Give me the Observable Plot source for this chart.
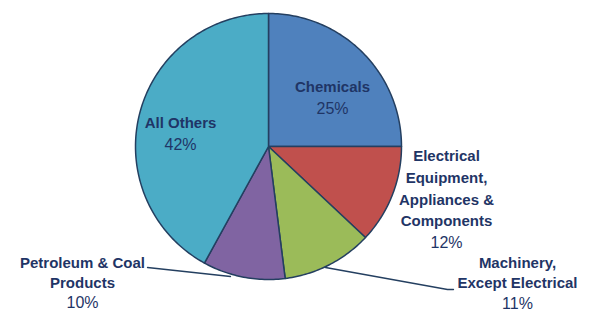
<!DOCTYPE html>
<html>
<head>
<meta charset="utf-8">
<script src="https://cdn.jsdelivr.net/npm/d3@7"></script>
<script src="https://cdn.jsdelivr.net/npm/@observablehq/plot@0.6"></script>
<style>
  html, body { margin: 0; padding: 0; background: #ffffff; }
  #chart svg { display: block; }
</style>
</head>
<body>
<div id="chart"></div>
<script>
// ---- data ----
const categories = ["Chemicals", "Electrical Equipment, Appliances & Components", "Machinery, Except Electrical", "Petroleum & Coal Products", "All Others"];
const values = [25, 12, 11, 10, 42];
const percentLabels = ["25%", "12%", "11%", "10%", "42%"];
const labelLines = [
  ["Chemicals"],
  ["Electrical", "Equipment,", "Appliances &", "Components"],
  ["Machinery,", "Except Electrical"],
  ["Petroleum & Coal", "Products"],
  ["All Others"]
];
const sliceColors = ["#4F81BD", "#C0504D", "#9BBB59", "#8064A2", "#4BACC6"];

// ---- layout (pixels) ----
const W = 592, H = 311;
const CX = 268, CY = 146, R = 133;
const labelPos = [[332, 87, 21], [446, 156, 21.6], [517, 263, 20], [82, 263, 19.5], [180, 123, 21]];
const leaders = [
  {name: categories[2], pts: [[453, 289], [447, 289], [325, 267]]},
  {name: categories[3], pts: [[147, 267], [230, 276]]}
];
const ux = px => (px - CX) / R;
const uy = py => (CY - py) / R;

// ---- slice geometry from data ----
const pie = d3.pie().sort(null).startAngle(0).endAngle(2 * Math.PI)(values);
const slicePts = [];
pie.forEach((p, i) => {
  slicePts.push({name: categories[i], x: 0, y: 0});
  const n = Math.max(2, Math.ceil((p.endAngle - p.startAngle) / (Math.PI / 180)));
  for (let k = 0; k <= n; k++) {
    const a = p.startAngle + (p.endAngle - p.startAngle) * k / n;
    slicePts.push({name: categories[i], x: Math.sin(a), y: Math.cos(a)});
  }
});

const nameRows = [], pctRows = [];
labelLines.forEach((lines, i) => {
  const [px, py, sp] = labelPos[i];
  lines.forEach((t, j) => nameRows.push({x: ux(px), y: uy(py + j * sp), text: t}));
  pctRows.push({x: ux(px), y: uy(py + lines.length * sp), text: percentLabels[i]});
});
const leaderRows = leaders.flatMap(l => l.pts.map(([px, py]) => ({name: l.name, x: ux(px), y: uy(py)})));

const navy = "#1F3566";
const font = "'Liberation Sans', Arial, sans-serif";

const chart = Plot.plot({
  width: W,
  height: H,
  margin: 0,
  x: {domain: [ux(0), ux(W)], axis: null},
  y: {domain: [uy(H), uy(0)], axis: null},
  color: {domain: categories, range: sliceColors},
  style: {fontFamily: font, background: "#ffffff"},
  marks: [
    Plot.line(slicePts, {x: "x", y: "y", z: "name", fill: "name", stroke: "#243F60", strokeWidth: 1.5, curve: "linear-closed", strokeLinejoin: "round"}),
    Plot.line(leaderRows, {x: "x", y: "y", z: "name", stroke: "#243F60", strokeWidth: 1.3}),
    Plot.text(nameRows, {x: "x", y: "y", text: "text", fill: navy, fontSize: 15, fontWeight: "bold", textAnchor: "middle", lineAnchor: "middle"}),
    Plot.text(pctRows, {x: "x", y: "y", text: "text", fill: navy, fontSize: 16, textAnchor: "middle", lineAnchor: "middle"})
  ]
});
document.getElementById("chart").appendChild(chart);
</script>
</body>
</html>
